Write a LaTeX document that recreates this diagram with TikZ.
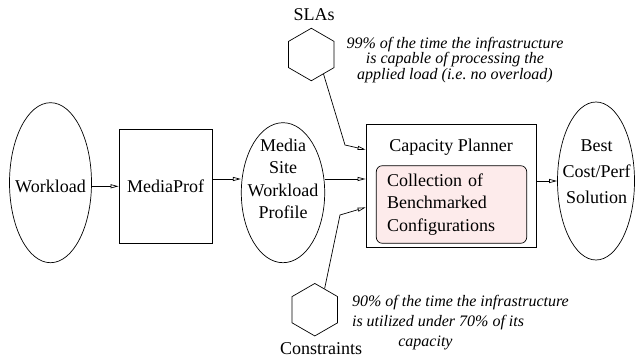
\documentclass[tikz,border=0pt]{standalone}
\usepackage{fontspec}
\setmainfont{Liberation Serif}
\usepackage{tikz}
\usetikzlibrary{arrows.meta}
\usetikzlibrary{shapes.geometric}
\definecolor{benchpink}{RGB}{253,235,235}
\tikzset{lbl/.style = {inner sep = 0, font = \fontsize{18}{22.5}\selectfont}}
\tikzset{oval/.style = {draw, ellipse, inner sep = 0}}
\tikzset{blk/.style = {draw, rectangle, lbl}}
\tikzset{hexa/.style = {draw, regular polygon, regular polygon sides = 6,
                        shape border rotate = 90, minimum size = 52.5, inner sep = 0}}
\tikzset{note/.style = {inner sep = 0, font = \fontsize{16}{15.5}\selectfont\itshape}}
\tikzset{flow/.style = {-{Triangle[open, length = 8pt, width = 4pt]}}}

\begin{document}
\begin{tikzpicture}[x = 1pt, y = -1pt, line width = 0.7pt]
      \useasboundingbox (0, 0) rectangle (636, 358);

      \node (wl) at (50.5, 182.7) [oval, minimum width = 82, minimum height = 160] {};
      \node (wltxt) at (50.5, 186) [lbl] {Workload};
      \node (mprof) at (165.5, 186.3) [blk, minimum width = 93, minimum height = 114] {MediaProf};

      \node (msite) at (283, 192.7) [oval, minimum width = 83.4, minimum height = 140] {};
      \node (mstxt) at (283, 179) [lbl, align = center] {Media\\Site\\Workload\\Profile};

      \node (cap) at (451.3, 185.7) [blk, minimum width = 170.7, minimum height = 123.3] {};
      \node (captxt) at (451, 147) [lbl] {Capacity Planner};
      \node (coll) at (451.5, 204.5) [blk, rounded corners = 6, fill = benchpink,
                                     minimum width = 150.4, minimum height = 77.6,
                                     text width = 129, align = left] {Collection of\\Benchmarked\\Configurations};

      \node (best) at (596, 181) [oval, minimum width = 77, minimum height = 158] {};
      \node (besttxt) at (596.5, 171.3) [lbl, align = center, font = \fontsize{18}{26}\selectfont] {Best\\Cost/Perf\\Solution};

      \node (sla) at (311.3, 54.5) [hexa] {};
      \node (slatxt) at (314, 15) [lbl] {SLAs};
      \node (slanote) at (455, 59.8) [note, align = center] {99\% of the time the infrastructure\\is capable of processing the\\applied load (i.e.\ no overload)};

      \node (con) at (314.8, 309.7) [hexa] {};
      \node (contxt) at (321, 348.8) [lbl] {Constraints};
      \node (connote) at (351.7, 323) [note, anchor = west, align = left,
                                      font = \fontsize{16}{20}\selectfont\itshape] {90\% of the time the infrastructure\\is utilized under 70\% of its\\\hspace*{46.3pt}capacity};

      \draw [flow] (wl.east |- mprof) -- (mprof);
      \draw [flow] (mprof.east |- mstxt) -- (msite.west |- mstxt);
      \draw [flow] (msite.east |- mstxt) -- (cap.west |- mstxt);
      \draw [flow] (cap.east |- best.west) -- (best.west);
      \draw [flow] (sla.-58) -- (345, 145) -- ([yshift = -26pt]cap.north west);
      \draw [flow] (con.65) -- (340, 215) -- ([yshift = 40.3pt]cap.south west);
\end{tikzpicture}
\end{document}
